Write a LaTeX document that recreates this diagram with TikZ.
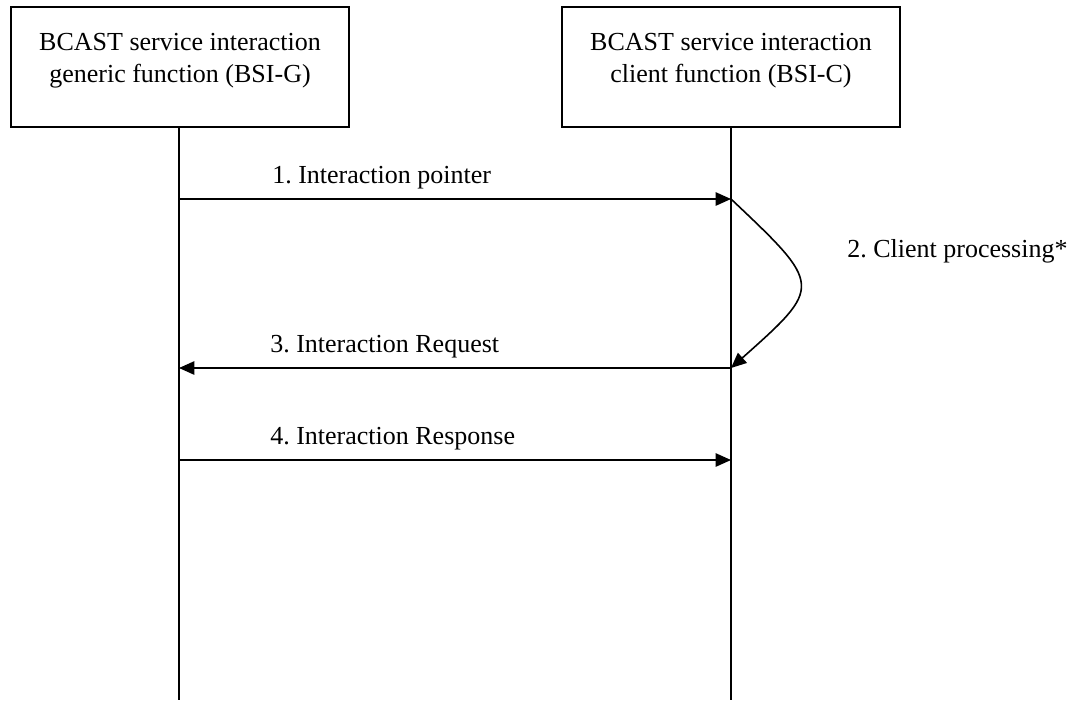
\documentclass[tikz,border=0pt]{standalone}
\usepackage{fontspec}
\setmainfont{Liberation Serif}
\usepackage{tikz}
\usetikzlibrary{arrows.meta, positioning}
\frenchspacing

\begin{document}
\begin{tikzpicture}[
    x=0.75pt, y=-0.75pt,
    every node/.style={font=\fontsize{19.5}{24}\selectfont},
    entity/.style={rectangle, draw=black, line width=1.3pt, minimum width=253.5pt, minimum height=90pt, align=center, inner sep=0pt},
    lifeline/.style={draw=black, line width=1.3pt},
    msg/.style={-{Triangle[length=11.5pt, width=10pt]}, line width=1.2pt},
    msglabel/.style={anchor=base west, inner sep=0pt}
]
\useasboundingbox (0,0) rectangle (1077,700);

\node[entity] (bsig) at (180,67) {BCAST service interaction\\generic function (BSI-G)\rule[-14pt]{0pt}{0pt}};
\node[entity] (bsic) at (731,67) {BCAST service interaction\\client function (BSI-C)\rule[-14pt]{0pt}{0pt}};

\coordinate (gend) at (179,700);
\coordinate (cend) at (731,700);
\coordinate (g1) at (179,199);
\coordinate (c1) at (731,199);
\coordinate (g3) at (179,368);
\coordinate (c3) at (731,368);
\coordinate (g4) at (179,460);
\coordinate (c4) at (731,460);

\draw[lifeline] (bsig.south -| gend) -- (gend);
\draw[lifeline] (bsic.south) -- (cend);

\draw[msg] (g1) -- (c1);
\draw[msg] (c1) .. controls (823,286) and (823,286) .. (c3);
\draw[msg] (c3) -- (g3);
\draw[msg] (g4) -- (c4);

\node[msglabel] (lbl1) at (272,183) {1. Interaction pointer};
\node[msglabel] (lbl2) at (847,257) {2. Client processing*};
\node[msglabel] (lbl3) at (270,352) {3. Interaction Request};
\node[msglabel] (lbl4) at (270,444) {4. Interaction Response};
\end{tikzpicture}
\end{document}
